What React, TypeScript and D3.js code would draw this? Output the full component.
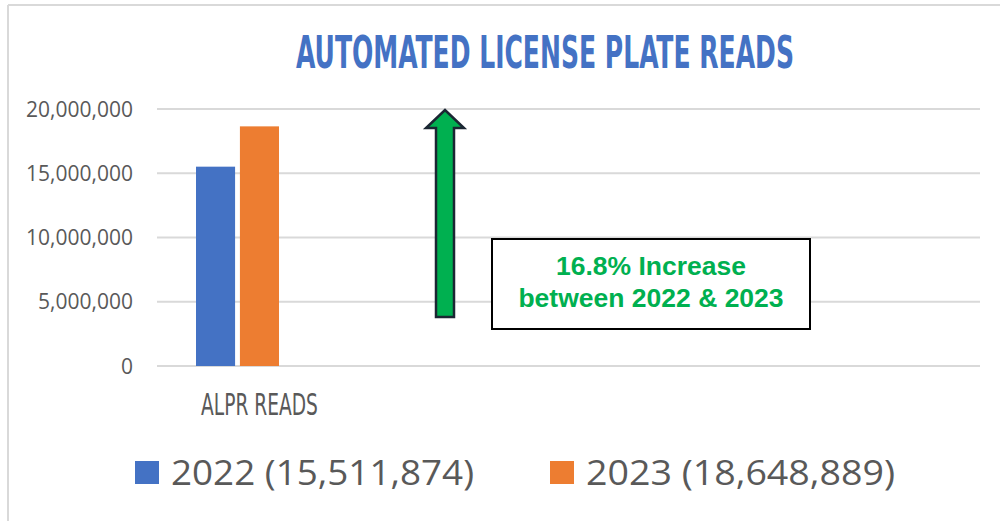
import React, { useEffect, useRef, useState } from "react";
import * as d3 from "d3";

const categories = ["ALPR READS"];
const seriesNames = ["2022", "2023"];
const seriesValues = [15511874, 18648889];
const seriesColors = ["#4472C4", "#ED7D31"];
const yTicks = [0, 5000000, 10000000, 15000000, 20000000];
const title = "AUTOMATED LICENSE PLATE READS";
const calloutLines = ["16.8% Increase", "between 2022 & 2023"];

const W = 1000;
const H = 521;
const plot = { left: 157, right: 980, top: 109, bottom: 366 };

function FitText(props: {
  x: number;
  y: number;
  width: number;
  text: string;
  fontSize: number;
  fill: string;
  fontFamily: string;
  fontWeight?: string;
}) {
  const ref = useRef<SVGTextElement>(null);
  const [sx, setSx] = useState(1);
  useEffect(() => {
    if (ref.current) {
      const w = ref.current.getComputedTextLength();
      if (w > 0) setSx(props.width / w);
    }
  }, [props.text, props.width]);
  return (
    <g transform={`translate(${props.x},${props.y}) scale(${sx},1)`}>
      <text
        ref={ref}
        x={0}
        y={0}
        textAnchor="middle"
        fill={props.fill}
        fontFamily={props.fontFamily}
        fontWeight={props.fontWeight}
        fontSize={props.fontSize}
      >
        {props.text}
      </text>
    </g>
  );
}

export default function App() {
  const y = d3.scaleLinear().domain([0, 20000000]).range([plot.bottom, plot.top]);
  const x1 = d3.scaleBand().domain(seriesNames).range([196, 279]).paddingInner(0.11);
  const fmt = d3.format(",");

  // arrow geometry
  const ax = 445;
  const shaftHalf = 9;
  const headHalf = 19;
  const tipY = 110;
  const headBaseY = 128;
  const baseY = 317;
  const arrowPath = d3.path();
  arrowPath.moveTo(ax - shaftHalf, baseY);
  arrowPath.lineTo(ax - shaftHalf, headBaseY);
  arrowPath.lineTo(ax - headHalf, headBaseY);
  arrowPath.lineTo(ax, tipY);
  arrowPath.lineTo(ax + headHalf, headBaseY);
  arrowPath.lineTo(ax + shaftHalf, headBaseY);
  arrowPath.lineTo(ax + shaftHalf, baseY);
  arrowPath.closePath();

  const legendItems = seriesNames.map((n, i) => ({
    name: n,
    label: `${n} (${fmt(seriesValues[i])})`,
    color: seriesColors[i],
  }));
  const legendX = [135, 550];
  const legendTextLen = [303, 309];

  return (
    <svg width={W} height={H} style={{ position: "absolute", left: 0, top: 0, background: "#fff" }}>
      <rect x={0} y={0} width={W} height={H} fill="#fff" />
      {/* frame */}
      <line x1={8} y1={5} x2={W} y2={5} stroke="#d9d9d9" strokeWidth={2} />
      <line x1={8} y1={5} x2={8} y2={H} stroke="#d9d9d9" strokeWidth={2} />

      {/* title */}
      <FitText
        x={545}
        y={68}
        width={498}
        text={title}
        fill="#4472C4"
        fontFamily="'DejaVu Sans Condensed', 'DejaVu Sans', sans-serif"
        fontWeight="bold"
        fontSize={44}
      />

      {/* gridlines */}
      {yTicks.map((t) => (
        <line key={t} x1={plot.left} x2={plot.right} y1={y(t)} y2={y(t)} stroke="#d9d9d9" strokeWidth={2} />
      ))}
      {/* y tick labels */}
      {yTicks.map((t) => (
        <text
          key={"l" + t}
          x={133}
          y={y(t) + 7.5}
          textAnchor="end"
          fill="#595959"
          fontFamily="'Open Sans', sans-serif"
          fontSize={21}
        >
          {fmt(t)}
        </text>
      ))}

      {/* bars */}
      {categories.map((c) =>
        seriesNames.map((s, i) => (
          <rect
            key={c + s}
            x={x1(s)}
            width={x1.bandwidth()}
            y={y(seriesValues[i])}
            height={y(0) - y(seriesValues[i])}
            fill={seriesColors[i]}
          />
        ))
      )}

      {/* category label */}
      {categories.map((c) => (
        <FitText
          key={c}
          x={259.5}
          y={415}
          width={117}
          text={c}
          fill="#595959"
          fontFamily="'DejaVu Sans Condensed', 'DejaVu Sans', sans-serif"
          fontSize={30}
        />
      ))}

      {/* arrow */}
      <path d={arrowPath.toString()} fill="#00B050" stroke="#1b2633" strokeWidth={2.5} strokeLinejoin="miter" />

      {/* callout */}
      <rect x={492} y={239} width={318} height={90} fill="#fff" stroke="#000" strokeWidth={2} />
      {calloutLines.map((l, i) => (
        <text
          key={l}
          x={651}
          y={275 + i * 32}
          textAnchor="middle"
          fill="#00B050"
          fontFamily="'Liberation Sans', Arial, sans-serif"
          fontWeight="bold"
          fontSize={26.5}
        >
          {l}
        </text>
      ))}

      {/* legend */}
      {legendItems.map((it, i) => (
        <g key={it.name}>
          <rect x={legendX[i]} y={461} width={24} height={23} fill={it.color} />
          <text
            x={legendX[i] + 36}
            y={485}
            fill="#595959"
            fontFamily="'Open Sans', sans-serif"
            fontSize={35}
            textLength={legendTextLen[i]}
            lengthAdjust="spacingAndGlyphs"
          >
            {it.label}
          </text>
        </g>
      ))}
    </svg>
  );
}
